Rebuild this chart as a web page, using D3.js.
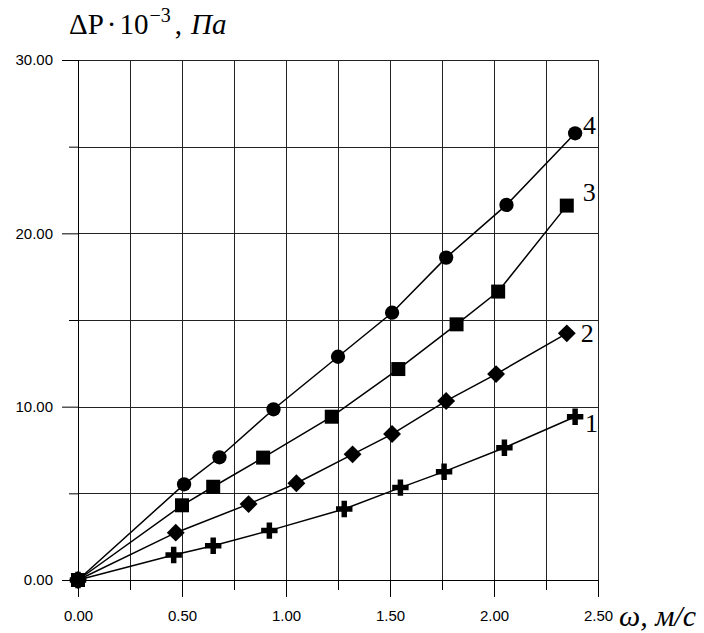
<!DOCTYPE html>
<html>
<head>
<meta charset="utf-8">
<script src="https://cdn.jsdelivr.net/npm/d3@7"></script>
<style>
  body { margin: 0; background: #fff; }
</style>
</head>
<body>
<div id="chart"></div>
<script>
//DATA--------------------
var xTicks = [0, 0.5, 1.0, 1.5, 2.0, 2.5];
var yTicks = [0, 10, 20, 30];

// series 1 - crosses
var speed1 = [0, 0.46, 0.65, 0.92, 1.28, 1.55, 1.76, 2.05, 2.39];
var dp1 = [0, 1.44, 1.98, 2.85, 4.10, 5.33, 6.25, 7.63, 9.42];
// series 2 - diamonds
var speed2 = [0, 0.47, 0.82, 1.05, 1.32, 1.51, 1.77, 2.01, 2.35];
var dp2 = [0, 2.73, 4.38, 5.58, 7.25, 8.42, 10.33, 11.88, 14.23];
// series 3 - squares
var speed3 = [0, 0.50, 0.65, 0.89, 1.22, 1.54, 1.82, 2.02, 2.35];
var dp3 = [0, 4.31, 5.38, 7.06, 9.42, 12.17, 14.75, 16.64, 21.6];
// series 4 - circles
var speed4 = [0, 0.51, 0.68, 0.94, 1.25, 1.51, 1.77, 2.06, 2.39];
var dp4 = [0, 5.52, 7.08, 9.85, 12.88, 15.42, 18.6, 21.64, 25.77];

var seriesNames = ["1", "2", "3", "4"];

//SET BOUNDARIES--------------------
var svgWidth = 704;
var svgHeight = 633;
var margin = {top: 60, right: 106, bottom: 53, left: 78};
var width = svgWidth - margin.left - margin.right;
var height = svgHeight - margin.top - margin.bottom;

var serif = "'Liberation Serif', 'Times New Roman', serif";

var svg = d3.select("#chart")
    .append("svg")
    .attr("width", svgWidth)
    .attr("height", svgHeight);

var plot = svg.append("g")
    .attr("transform", `translate(${margin.left}, ${margin.top})`);

var xScale = d3.scaleLinear().domain([0, 2.5]).range([0, width]);
var yScale = d3.scaleLinear().domain([0, 30]).range([height, 0]);

// grid
var gridX = d3.range(1, 11).map(i => i * 0.25);
var gridY = d3.range(1, 7).map(i => i * 5);

plot.selectAll("line.gx")
    .data(gridX)
    .enter()
    .append("line")
    .attr("x1", d => Math.round(xScale(d)) + 0.5)
    .attr("x2", d => Math.round(xScale(d)) + 0.5)
    .attr("y1", 0)
    .attr("y2", height)
    .attr("stroke", "#222")
    .attr("stroke-width", 1);

plot.selectAll("line.gy")
    .data(gridY)
    .enter()
    .append("line")
    .attr("y1", d => Math.round(yScale(d)) + 0.5)
    .attr("y2", d => Math.round(yScale(d)) + 0.5)
    .attr("x1", 0)
    .attr("x2", width)
    .attr("stroke", "#222")
    .attr("stroke-width", 1);

// axes: major ticks with labels, minor ticks without
var fmt = d3.format(".2f");

plot.append("g")
    .attr("transform", `translate(0, ${height})`)
    .call(d3.axisBottom(xScale).tickValues(xTicks).tickSize(17).tickPadding(13).tickFormat(fmt));
plot.append("g")
    .attr("transform", `translate(0, ${height})`)
    .call(d3.axisBottom(xScale).tickValues(d3.range(0, 5).map(i => 0.25 + i * 0.5)).tickSize(10).tickFormat(""));

plot.append("g")
    .call(d3.axisLeft(yScale).tickValues(yTicks).tickSize(16).tickPadding(9).tickFormat(fmt));
plot.append("g")
    .call(d3.axisLeft(yScale).tickValues([5, 15, 25]).tickSize(9).tickFormat(""));

plot.selectAll(".domain").remove();
plot.selectAll(".tick line").attr("stroke", "#000");
plot.selectAll(".tick text")
    .attr("font-family", "'Liberation Sans', Arial, sans-serif")
    .attr("font-size", "15px")
    .attr("fill", "#000");

plot.append("line")
    .attr("x1", 0).attr("x2", width)
    .attr("y1", height + 0.5).attr("y2", height + 0.5)
    .attr("stroke", "#000");
plot.append("line")
    .attr("x1", 0.5).attr("x2", 0.5)
    .attr("y1", 0).attr("y2", height)
    .attr("stroke", "#000");

// series lines + markers
var series = [
    {x: speed1, y: dp1, symbol: d3.symbolCross, size: 150, rotate: 0, dx: 10, dy: 15},
    {x: speed2, y: dp2, symbol: d3.symbolSquare, size: 160, rotate: 45, dx: 14, dy: 9},
    {x: speed3, y: dp3, symbol: d3.symbolSquare, size: 196, rotate: 0, dx: 16, dy: -5},
    {x: speed4, y: dp4, symbol: d3.symbolCircle, size: 160, rotate: 0, dx: 8, dy: 1}
];

var line = d3.line()
    .x(d => xScale(d[0]))
    .y(d => yScale(d[1]));

series.forEach(function(s, i) {
    var pts = s.x.map((v, j) => [v, s.y[j]]);

    plot.append("path")
        .datum(pts)
        .attr("d", line)
        .attr("fill", "none")
        .attr("stroke", "#000")
        .attr("stroke-width", 1.5);

    plot.selectAll("path.m" + i)
        .data(pts)
        .enter()
        .append("path")
        .attr("class", "m" + i)
        .attr("d", d3.symbol().type(s.symbol).size(s.size))
        .attr("transform", d => `translate(${xScale(d[0])}, ${yScale(d[1])}) rotate(${s.rotate})`)
        .attr("fill", "#000");

    // series number next to last point
    var last = pts[pts.length - 1];
    plot.append("text")
        .attr("x", xScale(last[0]) + s.dx)
        .attr("y", yScale(last[1]) + s.dy)
        .attr("font-family", serif)
        .attr("font-size", "26px")
        .attr("fill", "#000")
        .text(seriesNames[i]);
});

// axis titles
var title = svg.append("text")
    .attr("x", 69)
    .attr("y", 34)
    .attr("font-family", serif)
    .attr("font-size", "29px")
    .attr("fill", "#000");
title.append("tspan").text("\u0394P");
title.append("tspan").attr("dx", 3).text("\u00b7");
title.append("tspan").attr("dx", 3).text("10");
title.append("tspan").attr("dy", -12).attr("dx", 1).attr("font-size", "20px").text("\u22123");
title.append("tspan").attr("dy", 12).attr("dx", 4).text(",");
title.append("tspan").attr("dx", 9).attr("font-style", "italic").text("\u041f\u0430");

svg.append("text")
    .attr("x", 619)
    .attr("y", 626)
    .attr("font-family", serif)
    .attr("font-size", "30px")
    .attr("font-style", "italic")
    .attr("fill", "#000")
    .text("\u03c9, \u043c/\u0441");
</script>
</body>
</html>
